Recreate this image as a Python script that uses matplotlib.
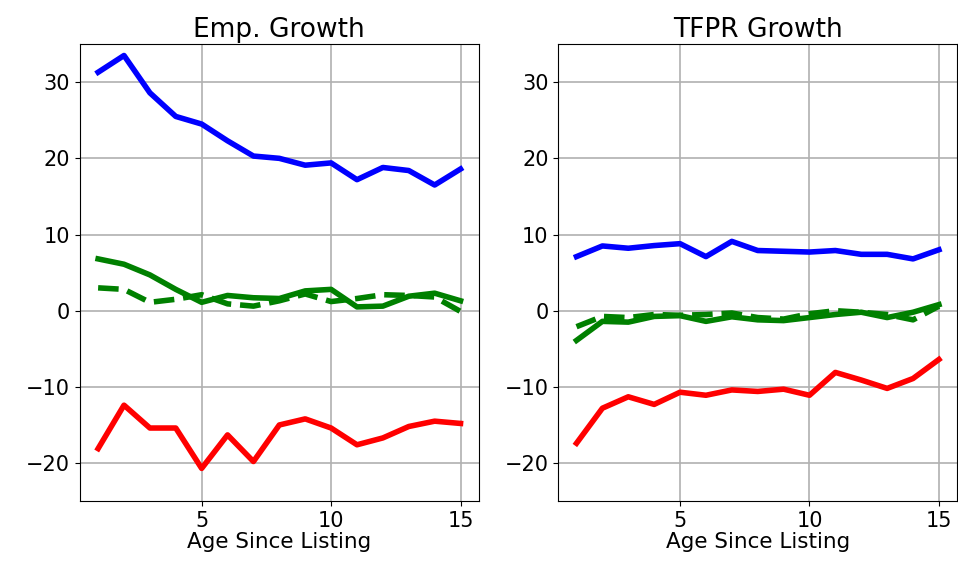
import matplotlib
matplotlib.use("Agg")
import matplotlib.pyplot as plt

# --- datos ---
edad = list(range(1, 16))

emp_azul = [31.3, 33.5, 28.6, 25.5, 24.5, 22.3, 20.3, 20.0, 19.1, 19.4, 17.2, 18.8, 18.4, 16.5, 18.6]
emp_rojo = [-18.1, -12.4, -15.4, -15.4, -20.7, -16.3, -19.8, -15.0, -14.2, -15.4, -17.6, -16.7, -15.2, -14.5, -14.8]
emp_verde = [6.8, 6.1, 4.7, 2.8, 1.1, 2.0, 1.7, 1.6, 2.6, 2.8, 0.5, 0.6, 1.9, 2.3, 1.3]
emp_verde_dash = [3.0, 2.8, 1.1, 1.5, 2.1, 0.9, 0.6, 1.3, 2.2, 1.2, 1.6, 2.1, 2.0, 1.8, -0.1]

tfpr_azul = [7.1, 8.5, 8.2, 8.55, 8.8, 7.1, 9.1, 7.9, 7.8, 7.7, 7.9, 7.4, 7.4, 6.8, 8.0]
tfpr_rojo = [-17.4, -12.8, -11.3, -12.3, -10.7, -11.1, -10.4, -10.6, -10.3, -11.1, -8.1, -9.1, -10.2, -8.9, -6.4]
tfpr_verde = [-3.9, -1.4, -1.5, -0.75, -0.65, -1.4, -0.8, -1.2, -1.3, -0.9, -0.5, -0.2, -0.9, -0.2, 0.8]
tfpr_verde_dash = [-2.1, -0.75, -0.9, -0.5, -0.6, -0.5, -0.3, -0.9, -1.1, -0.4, 0.0, -0.2, -0.5, -1.2, 0.6]

titulos = ["Emp. Growth", "TFPR Growth"]
paneles = [
    (emp_azul, emp_rojo, emp_verde, emp_verde_dash),
    (tfpr_azul, tfpr_rojo, tfpr_verde, tfpr_verde_dash),
]

fig, axes = plt.subplots(1, 2, figsize=(9.58, 5.65), dpi=100)
fig.subplots_adjust(left=0.0835, right=0.999, top=0.922, bottom=0.113, wspace=0.2)

for ax, titulo, (azul, rojo, verde, verde_dash) in zip(axes, titulos, paneles):
    ax.plot(edad, azul, color="blue", lw=4)
    ax.plot(edad, rojo, color="red", lw=4)
    ax.plot(edad, verde, color="green", lw=4)
    ax.plot(edad, verde_dash, color="green", lw=4, linestyle="--")
    ax.set_ylim(-25, 35)
    ax.set_xticks([5, 10, 15])
    ax.set_yticks([-20, -10, 0, 10, 20, 30])
    ax.grid(True, color="#b0b0b0", lw=1.2)
    ax.set_title(titulo, fontsize=19, pad=5)
    ax.set_xlabel("Age Since Listing", fontsize=15.5, labelpad=1)
    ax.tick_params(labelsize=15)

plt.savefig("out.png", dpi=100)
